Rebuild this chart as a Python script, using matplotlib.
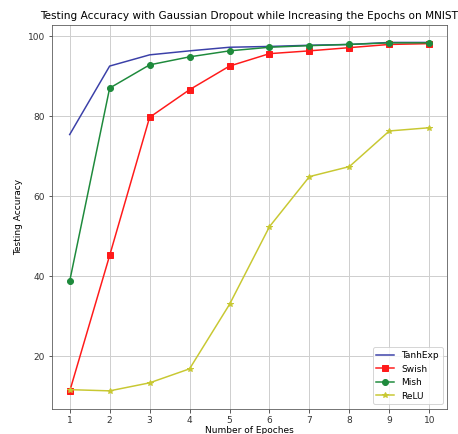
import matplotlib
matplotlib.use("Agg")
import matplotlib.pyplot as plt
import numpy as np

epochs = [1, 2, 3, 4, 5, 6, 7, 8, 9, 10]
tanhexp = [75.4, 92.5, 95.3, 96.3, 97.2, 97.4, 97.7, 97.9, 98.4, 98.4]
swish = [11.3, 45.2, 79.7, 86.6, 92.5, 95.6, 96.3, 97.1, 97.9, 98.1]
mish = [38.8, 87.0, 92.8, 94.8, 96.3, 97.2, 97.6, 97.9, 98.3, 98.3]
relu = [11.7, 11.4, 13.4, 16.9, 33.0, 52.4, 64.9, 67.4, 76.3, 77.1]

fig = plt.figure(figsize=(458 / 72, 434 / 72), dpi=72)
ax = fig.add_axes([0.1129, 0.0583, 0.8637, 0.8841])

ax.plot(epochs, tanhexp, color='#3b40a8', linewidth=1.5, label='TanhExp')
ax.plot(epochs, swish, color='#ff1a1a', marker='s', markersize=6, linewidth=1.5, label='Swish')
ax.plot(epochs, mish, color='#1e8a3c', marker='o', markersize=6, linewidth=1.5, label='Mish')
ax.plot(epochs, relu, color='#c8c832', marker='*', markersize=6, linewidth=1.5, label='ReLU')

ax.set_xticks(epochs)
ax.set_yticks([20, 40, 60, 80, 100])
ax.grid(True, color='#cfcfcf', linewidth=1)
ax.tick_params(labelsize=9, colors='#333333')
for s in ax.spines.values():
    s.set_color('#555555')

ax.set_title('Testing Accuracy with Gaussian Dropout while Increasing the Epochs on MNIST', fontsize=10.5)
ax.set_xlabel('Number of Epoches', fontsize=9, labelpad=1)
ax.set_ylabel('Testing Accuracy', fontsize=9)
ax.legend(loc='lower right', fontsize=9)

fig.savefig('out.png', dpi=72)
